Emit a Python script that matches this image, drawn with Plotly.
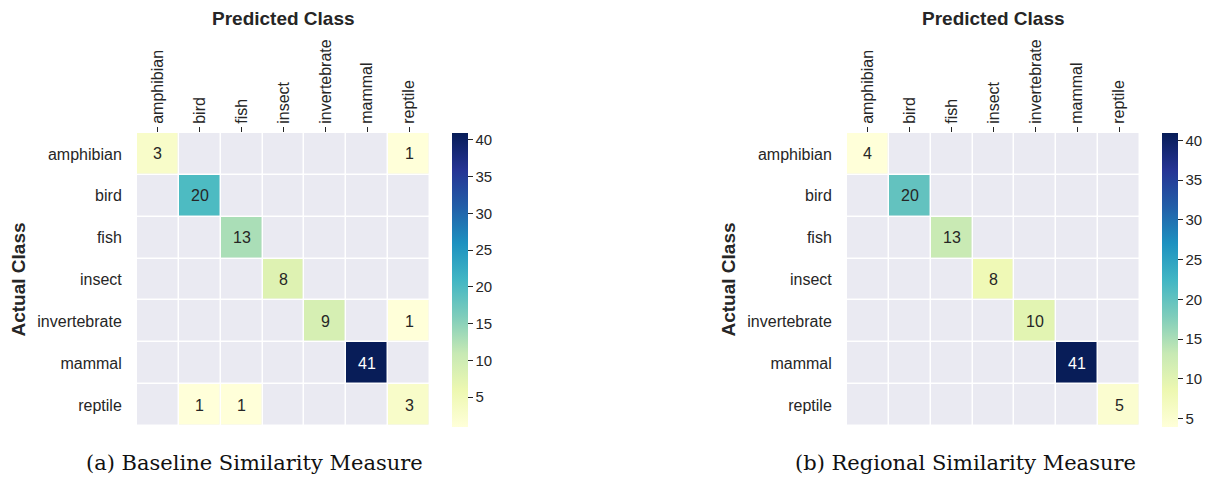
import plotly.graph_objects as go

classes = ["amphibian", "bird", "fish", "insect", "invertebrate", "mammal", "reptile"]

# rows = actual class, columns = predicted class
baseline = [
    [3, 0, 0, 0, 0, 0, 1],
    [0, 20, 0, 0, 0, 0, 0],
    [0, 0, 13, 0, 0, 0, 0],
    [0, 0, 0, 8, 0, 0, 0],
    [0, 0, 0, 0, 9, 0, 1],
    [0, 0, 0, 0, 0, 41, 0],
    [0, 1, 1, 0, 0, 0, 3],
]
regional = [
    [4, 0, 0, 0, 0, 0, 0],
    [0, 20, 0, 0, 0, 0, 0],
    [0, 0, 13, 0, 0, 0, 0],
    [0, 0, 0, 8, 0, 0, 0],
    [0, 0, 0, 0, 10, 0, 0],
    [0, 0, 0, 0, 0, 41, 0],
    [0, 0, 0, 0, 0, 0, 5],
]
cbar_ticks = [5, 10, 15, 20, 25, 30, 35, 40]
captions = ["(a) Baseline Similarity Measure", "(b) Regional Similarity Measure"]

YLGNBU = ["#ffffd9", "#edf8b1", "#c7e9b4", "#7fcdbb", "#41b6c4",
          "#1d91c0", "#225ea8", "#253494", "#081d58"]
colorscale = [[i / 8, c] for i, c in enumerate(YLGNBU)]
MASK = "#EAEAF2"
TXT = "#262626"
W, H = 1215, 479

def px_x(p):
    return p / W

def px_y(p):
    return 1 - p / H

panels = [
    dict(data=baseline, x0=137, x1=430, cbx=452, cap_x=254),
    dict(data=regional, x0=847, x1=1140, cbx=1162, cap_x=965),
]
top, bottom = 133, 426

fig = go.Figure()
annotations = []

for i, p in enumerate(panels):
    k = "" if i == 0 else str(i + 1)
    xa, ya = "x" + k, "y" + k
    data = p["data"]
    nz = [v for row in data for v in row if v > 0]
    zmin, zmax = min(nz), max(nz)
    z = [[v if v > 0 else None for v in row] for row in data]
    # masked background cells
    fig.add_trace(go.Heatmap(
        z=[[1] * 7 for _ in range(7)], x=classes, y=classes,
        colorscale=[[0, MASK], [1, MASK]], showscale=False,
        xgap=1.5, ygap=1.5, hoverinfo="skip", xaxis=xa, yaxis=ya))
    fig.add_trace(go.Heatmap(
        z=z, x=classes, y=classes, colorscale=colorscale,
        zmin=zmin, zmax=zmax, xgap=1.5, ygap=1.5, xaxis=xa, yaxis=ya,
        colorbar=dict(
            x=px_x(p["cbx"]), xanchor="left", xref="paper",
            y=px_y((top + bottom) / 2), yanchor="middle",
            len=bottom - top + 1, lenmode="pixels",
            thickness=16, thicknessmode="pixels",
            outlinewidth=0, ypad=0, xpad=0,
            tickvals=cbar_ticks, ticks="outside", ticklen=5,
            tickwidth=1.2, tickcolor=TXT,
            tickfont=dict(family="Liberation Sans", size=15, color=TXT),
        )))
    for r, row in enumerate(data):
        for c, v in enumerate(row):
            if v > 0:
                frac = (v - zmin) / (zmax - zmin)
                col = "white" if frac > 0.7 else TXT
                annotations.append(dict(
                    x=classes[c], y=classes[r], xref=xa, yref=ya,
                    text=str(v), showarrow=False,
                    font=dict(family="Liberation Sans", size=16, color=col)))
    axx = dict(domain=[px_x(p["x0"]), px_x(p["x1"])], side="top",
               tickangle=-90, ticks="outside", ticklen=5, tickwidth=1.2,
               tickcolor=TXT, showgrid=False, zeroline=False,
               showline=False, automargin=False, anchor=ya,
               tickfont=dict(family="Liberation Sans", size=16, color=TXT))
    axy = dict(domain=[px_y(bottom), px_y(top)], autorange="reversed",
               ticks="outside", ticklen=11, tickcolor="rgba(0,0,0,0)",
               showgrid=False, zeroline=False, showline=False,
               automargin=False, anchor=xa,
               tickfont=dict(family="Liberation Sans", size=16, color=TXT))
    fig.layout["xaxis" + k] = axx
    fig.layout["yaxis" + k] = axy
    cx = (p["x0"] + p["x1"]) / 2
    annotations.append(dict(
        x=px_x(cx), y=px_y(18), xref="paper", yref="paper",
        text="<b>Predicted Class</b>", showarrow=False,
        xanchor="center", yanchor="middle",
        font=dict(family="Liberation Sans", size=19, color=TXT)))
    annotations.append(dict(
        x=px_x(p["x0"] - 119), y=px_y((top + bottom) / 2),
        xref="paper", yref="paper", textangle=-90,
        text="<b>Actual Class</b>", showarrow=False,
        xanchor="center", yanchor="middle",
        font=dict(family="Liberation Sans", size=19, color=TXT)))
    annotations.append(dict(
        x=px_x(p["cap_x"]), y=px_y(463), xref="paper", yref="paper",
        text=captions[i], showarrow=False,
        xanchor="center", yanchor="middle",
        font=dict(family="DejaVu Serif", size=21, color="#111111")))

fig.update_layout(
    width=W, height=H, margin=dict(l=0, r=0, t=0, b=0),
    plot_bgcolor="white", paper_bgcolor="white",
    annotations=annotations, showlegend=False)

fig.write_html("out.html", config={"displayModeBar": False},
               post_script="document.body.style.margin='0';document.body.style.overflow='hidden';")
